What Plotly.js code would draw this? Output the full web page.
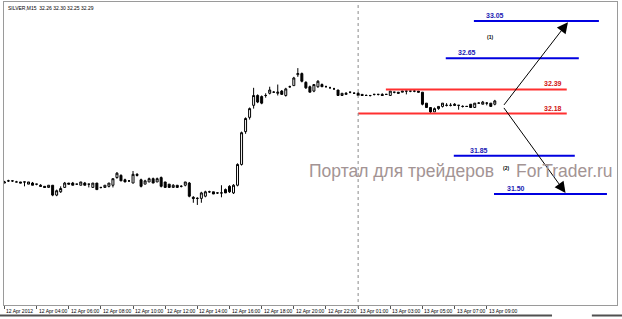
<!DOCTYPE html>
<html><head><meta charset="utf-8">
<script src="https://cdn.plot.ly/plotly-3.0.1.min.js"></script>
<style>html,body{margin:0;padding:0;background:#fff}#chart{width:622px;height:319px}</style>
</head><body><div id="chart"></div>
<script>
// ---- data ----
const symbol = 'SILVER,M15';
const openP = [
31.54,31.56,31.56,31.55,31.55,31.55,31.53,31.54,31.53,31.52,
31.51,31.50,31.52,31.43,31.46,31.50,31.54,31.54,31.53,31.52,
31.54,31.53,31.50,31.54,31.50,31.50,31.51,31.52,31.59,31.61,
31.57,31.56,31.54,31.62,31.57,31.53,31.55,31.58,31.55,31.59,
31.55,31.53,31.50,31.52,31.51,31.52,31.54,31.41,31.40,31.40,
31.42,31.46,31.46,31.45,31.45,31.48,31.51,31.45,31.52,31.71,
32.01,32.14,32.25,32.34,32.33,32.34,32.36,32.37,32.36,32.38,
32.34,32.42,32.43,32.53,32.54,32.46,32.42,32.38,32.42,32.44,
32.42,32.41,32.40,32.39,32.34,32.35,32.37,32.36,32.36,32.35,
32.34,32.34,32.35,32.35,32.35,32.35,32.34,32.37,32.37,32.37,
32.38,32.38,32.38,32.38,32.37,32.27,32.23,32.19,32.22,32.24,
32.25,32.25,32.26,32.25,32.24,32.24,32.26,32.23,32.27,32.26,
32.27,32.27,32.26];
const highP = [
31.56,31.57,31.56,31.56,31.55,31.55,31.55,31.55,31.53,31.53,
31.51,31.52,31.52,31.48,31.51,31.55,31.54,31.55,31.53,31.55,
31.55,31.53,31.54,31.54,31.50,31.52,31.54,31.58,31.64,31.62,
31.58,31.56,31.65,31.63,31.58,31.57,31.59,31.59,31.59,31.60,
31.55,31.53,31.53,31.52,31.52,31.55,31.55,31.42,31.41,31.46,
31.47,31.47,31.46,31.45,31.52,31.49,31.52,31.53,31.72,32.01,
32.14,32.23,32.41,32.35,32.34,32.36,32.42,32.38,32.44,32.39,
32.41,32.43,32.51,32.59,32.55,32.47,32.43,32.44,32.48,32.45,
32.43,32.42,32.41,32.39,32.36,32.37,32.37,32.37,32.37,32.35,
32.35,32.34,32.35,32.35,32.36,32.35,32.38,32.37,32.37,32.38,
32.38,32.38,32.39,32.38,32.37,32.27,32.23,32.23,32.24,32.27,
32.27,32.27,32.27,32.25,32.25,32.24,32.26,32.27,32.28,32.29,
32.28,32.27,32.30];
const lowP = [
31.54,31.55,31.55,31.55,31.54,31.51,31.53,31.52,31.52,31.51,
31.50,31.50,31.42,31.42,31.45,31.50,31.53,31.52,31.53,31.52,
31.52,31.50,31.50,31.48,31.49,31.50,31.50,31.50,31.58,31.56,
31.55,31.55,31.54,31.60,31.50,31.53,31.55,31.54,31.55,31.50,
31.50,31.50,31.50,31.50,31.50,31.51,31.41,31.36,31.34,31.36,
31.41,31.45,31.44,31.44,31.41,31.45,31.45,31.44,31.51,31.70,
31.99,32.12,32.22,32.27,32.26,32.32,32.35,32.37,32.34,32.35,
32.33,32.41,32.43,32.51,32.46,32.40,32.37,32.37,32.41,32.42,
32.42,32.41,32.40,32.34,32.34,32.35,32.36,32.36,32.34,32.34,
32.34,32.33,32.34,32.34,32.34,32.35,32.34,32.36,32.36,32.37,
32.35,32.37,32.37,32.37,32.25,32.23,32.18,32.19,32.21,32.23,
32.24,32.24,32.25,32.21,32.23,32.24,32.23,32.23,32.27,32.26,
32.25,32.24,32.25];
const closeP = [
31.55,31.56,31.56,31.55,31.54,31.55,31.55,31.52,31.53,31.51,
31.50,31.52,31.43,31.47,31.49,31.54,31.53,31.52,31.53,31.55,
31.52,31.53,31.54,31.48,31.50,31.52,31.54,31.58,31.63,31.56,
31.55,31.56,31.62,31.61,31.51,31.56,31.58,31.54,31.58,31.51,
31.50,31.50,31.52,31.50,31.51,31.55,31.42,31.40,31.40,31.45,
31.46,31.46,31.44,31.45,31.45,31.45,31.46,31.52,31.71,32.00,
32.13,32.22,32.34,32.28,32.27,32.34,32.39,32.37,32.37,32.35,
32.40,32.42,32.50,32.54,32.47,32.41,32.37,32.44,32.47,32.42,
32.42,32.41,32.40,32.34,32.36,32.36,32.37,32.36,32.34,32.34,
32.34,32.34,32.35,32.35,32.34,32.35,32.38,32.37,32.36,32.38,
32.38,32.38,32.38,32.37,32.26,32.23,32.19,32.22,32.24,32.27,
32.25,32.25,32.25,32.25,32.24,32.24,32.23,32.27,32.27,32.28,
32.27,32.24,32.29];
const tickBars = [0,8,16,24,32,40,48,56,64,72,80,88,96,104,112,120];
const tickLabels = ['12 Apr 2012','12 Apr 04:00','12 Apr 06:00','12 Apr 08:00','12 Apr 10:00',
  '12 Apr 12:00','12 Apr 14:00','12 Apr 16:00','12 Apr 18:00','12 Apr 20:00','12 Apr 22:00',
  '13 Apr 01:00','13 Apr 03:00','13 Apr 05:00','13 Apr 07:00','13 Apr 09:00'];
// analyst levels: text of the label and price where the line is drawn
const levelLabels = ['33.05','32.65','32.39','32.18','31.85','31.50'];
const levelPrices = [33.02, 32.68, 32.395, 32.175, 31.79, 31.44];
// forecast arrows (bar index, price)
const forecastFromBar = 124, forecastFromPrice = 32.24;
const forecastToBars = [140.2, 139.6];
const forecastToPrices = [33.01, 31.45];
const scenarioLabels = ['(1)','(2)'];
const scenarioBars = [120.8, 124.8];
const scenarioPrices = [32.87, 31.68];
const watermark = ['Портал для трейдеров', 'ForTrader.ru'];

// ---- styles / placement ----
const levelStyle = [
  {color:'#0000e0', text:'#1a1ab4', span:[116.8,147.9], lx:119.3, anchor:'left'},
  {color:'#0000e0', text:'#1a1ab4', span:[109.8,142.9], lx:112.3, anchor:'left'},
  {color:'#ff3030', text:'#d01010', span:[94.9,139.9], lx:139.2, anchor:'right'},
  {color:'#ff3030', text:'#d01010', span:[88,139.9], lx:139.2, anchor:'right'},
  {color:'#0000e0', text:'#1a1ab4', span:[111.8,141.9], lx:115.3, anchor:'left'},
  {color:'#0000e0', text:'#1a1ab4', span:[121.8,149.9], lx:124.5, anchor:'left'}
];

const bars = openP.map((_, i) => i);
const n = openP.length - 1;

const trace = {
  type:'candlestick', x:bars, open:openP, high:highP, low:lowP, close:closeP,
  increasing:{line:{color:'#000', width:1}, fillcolor:'#ffffff'},
  decreasing:{line:{color:'#000', width:1}, fillcolor:'#000000'},
  whiskerwidth:0, hoverinfo:'skip', showlegend:false
};

const shapes = [];
levelPrices.forEach((p, i) => {
  const s = levelStyle[i];
  shapes.push({type:'line', xref:'x', yref:'y', x0:s.span[0], x1:s.span[1], y0:p, y1:p,
    line:{color:s.color, width:2}});
});
const sepBar = tickBars[tickLabels.indexOf('13 Apr 01:00')];
shapes.push({type:'line', xref:'x', yref:'paper', x0:sepBar, x1:sepBar, y0:-0.01, y1:1,
  line:{color:'#8a8a8a', width:1, dash:'dot'}});
// window bottom strip
shapes.push({type:'line', xref:'paper', yref:'paper', x0:-0.01, x1:0.894, y0:-0.035, y1:-0.035, line:{color:'#505050', width:2}});
shapes.push({type:'line', xref:'paper', yref:'paper', x0:0.959, x1:1.01, y0:-0.035, y1:-0.035, line:{color:'#505050', width:2}});

const annotations = [];
// title
annotations.push({xref:'paper', yref:'paper', x:0.003, y:0.997, xanchor:'left', yanchor:'top', showarrow:false,
  text: symbol + '  ' + [openP[n], highP[n], lowP[n], closeP[n]].map(v => v.toFixed(2)).join(' '),
  font:{family:'Liberation Sans, Arial', size:5, color:'#000'}});
// time labels
tickBars.forEach((b, i) => {
  annotations.push({xref:'x', yref:'paper', x:b, y:0, xanchor:'left', yanchor:'top', xshift:0, yshift:-1,
    showarrow:false, text:tickLabels[i], font:{family:'Liberation Sans, Arial', size:5, color:'#000'}});
});
// level labels
levelLabels.forEach((t, i) => {
  const s = levelStyle[i];
  annotations.push({xref:'x', yref:'y', x:s.lx, y:levelPrices[i], xanchor:s.anchor, yanchor:'bottom', yshift:0,
    showarrow:false, text:'<b>'+t+'</b>', font:{family:'Liberation Sans, Arial', size:7, color:s.text}});
});
// scenario marks
scenarioLabels.forEach((t, i) => {
  annotations.push({xref:'x', yref:'y', x:scenarioBars[i], y:scenarioPrices[i], showarrow:false,
    text:'<b>'+t+'</b>', font:{family:'Liberation Sans, Arial', size:5, color:'#000'}});
});
// forecast arrows
forecastToBars.forEach((b, i) => {
  annotations.push({xref:'x', yref:'y', x:b, y:forecastToPrices[i], axref:'x', ayref:'y',
    ax:forecastFromBar, ay:forecastFromPrice, text:'', showarrow:true, arrowhead:2, arrowsize:2.2,
    arrowwidth:1, arrowcolor:'#000', standoff:0, startstandoff:0});
});
// watermark
annotations.push({xref:'paper', yref:'paper', x:0.494, y:0.443, xanchor:'left', yanchor:'middle', showarrow:false,
  text:watermark[0], font:{family:'Liberation Sans, Arial', size:17.5, color:'#a39494'}});
annotations.push({xref:'paper', yref:'paper', x:0.997, y:0.443, xanchor:'right', yanchor:'middle', showarrow:false,
  text:watermark[1], font:{family:'Liberation Sans, Arial', size:17.5, color:'#a39494'}});

const layout = {
  width:622, height:319,
  margin:{l:4, r:5, t:2, b:14, pad:0},
  paper_bgcolor:'#ffffff', plot_bgcolor:'#ffffff',
  showlegend:false,
  xaxis:{range:[-0.1,152.4], showgrid:false, zeroline:false, showline:true, mirror:true,
    linecolor:'#9a9a9a', linewidth:1, tickmode:'array', tickvals:tickBars, showticklabels:false,
    ticks:'outside', ticklen:3, tickcolor:'#555', rangeslider:{visible:false}, fixedrange:true},
  yaxis:{range:[30.426,33.194], showgrid:false, zeroline:false, showline:true, mirror:true,
    linecolor:'#9a9a9a', linewidth:1, showticklabels:false, ticks:'', fixedrange:true},
  shapes:shapes, annotations:annotations
};

Plotly.newPlot('chart', [trace], layout, {staticPlot:true, displayModeBar:false});
</script>
</body></html>
